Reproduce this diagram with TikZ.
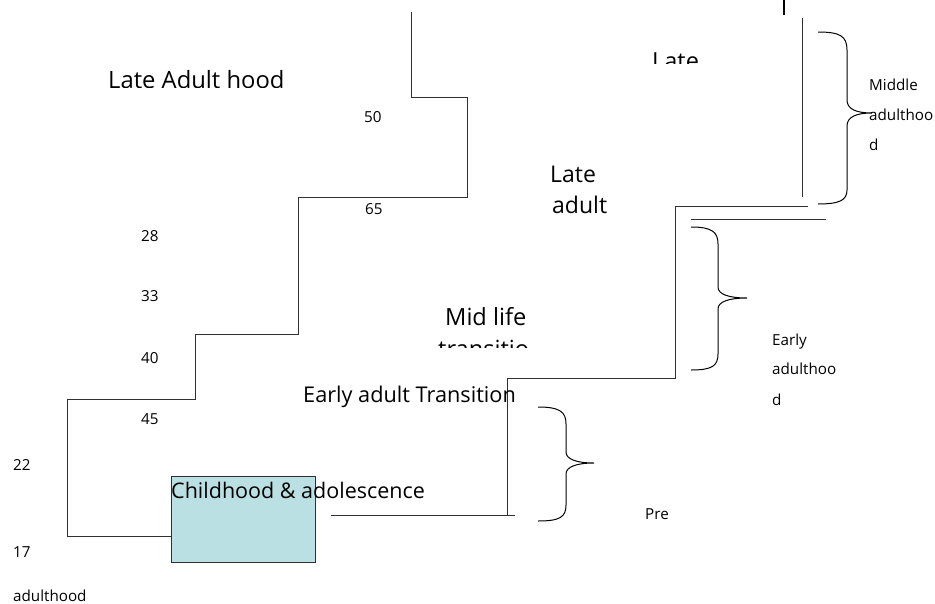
\documentclass[tikz,border=0pt]{standalone}
\usepackage{fontspec}
\setmainfont{Open Sans}
\definecolor{boxblue}{HTML}{BBE0E3}
\definecolor{inkgray}{HTML}{303030}
\begin{document}
\begin{tikzpicture}[x=1pt,y=-1pt,
  stair/.style={draw=inkgray,line width=1pt},
  brace/.style={draw=black,line width=1pt},
  big/.style={font=\fontsize{#1}{25}\selectfont,inner sep=0,anchor=base west},
  big/.default=21.5,
  small/.style={font=\fontsize{15.2}{18}\selectfont,inner sep=0,anchor=base west}]
\useasboundingbox (0,0) rectangle (935,603);

% childhood box
\node[draw=inkgray,line width=1pt,fill=boxblue,minimum width=144pt,minimum height=86pt,
      inner sep=0,anchor=north west] (box) at (171,476) {};
\node[big=21.5] (child) at (171,498) {Childhood \& adolescence};

% left staircase, ending at the box
\coordinate (s0) at (67,536);
\draw[stair] (411,12) -- (411,97) -- (467,97) -- (467,197) -- (298,197) -- (298,334)
  -- (195,334) -- (195,399) -- (67,399) -- (s0) -- (s0 -| box.west);

% right staircase
\coordinate (r0) at (331,515);
\coordinate (r1) at (515,515);
\draw[stair] (r0) -- (r1);
\draw[stair] (507,515) -- (507,378) -- (675,378) -- (675,206) -- (808,206);
\draw[stair] (691,219) -- (826,219);
\draw[stair] (802,18) -- (802,197);
\draw[line width=2pt] (784,0) -- (784,15);

% braces
\draw[brace] (818,32) .. controls (840,32) and (847,36) .. (847,50) -- (847,100)
  .. controls (847,109) and (856,113) .. (872,113)
  .. controls (856,113) and (847,117) .. (847,126) -- (847,190)
  .. controls (847,200) and (840,204) .. (818,204);
\draw[brace] (691,227) .. controls (712,227) and (718,232) .. (718,244) -- (718,287)
  .. controls (718,294) and (728,298) .. (747,298)
  .. controls (728,298) and (718,302) .. (718,309) -- (718,354)
  .. controls (718,366) and (712,370) .. (691,370);
\draw[brace] (538,407) .. controls (560,407) and (566,412) .. (566,424) -- (566,452)
  .. controls (566,459) and (576,463) .. (594,463)
  .. controls (576,463) and (566,467) .. (566,474) -- (566,505)
  .. controls (566,517) and (560,521) .. (538,521);

% stage titles
\begin{scope}
  \clip (90,60) rectangle (300,87);
  \node[big=23.8] (late1) at (108,88.5) {Late Adult hood};
\end{scope}
\begin{scope}
  \clip (640,40) rectangle (720,63);
  \node[big=23.5] (late2) at (652,69) {Late};
\end{scope}
\node[big=23] (late3) at (550,182) {Late};
\node[big=23] (adult3) at (552,213) {adult};
\node[big=23.6] (mid) at (445,325) {Mid life};
\begin{scope}
  \clip (430,330) rectangle (545,347);
  \node[big=23.6] (trans) at (438,357) {transitio};
\end{scope}
\node[big=21.7] (eat) at (303,402) {Early adult Transition};

% ages
\node[small] (a50) at (364,122) {50};
\node[small] (a65) at (365,214) {65};
\node[small] (a28) at (141,241) {28};
\node[small] (a33) at (141,301) {33};
\node[small] (a40) at (141,363) {40};
\node[small] (a45) at (141,424) {45};
\node[small] (a22) at (13,470) {22};
\node[small] (a17) at (13,557) {17};
\node[small] (adh) at (13,601) {adulthood};
\node[small] (pre) at (645,519) {Pre};

% brace labels
\node[small] (ea1) at (772,345) {Early};
\node[small] (ea2) at (772,374) {adulthoo};
\node[small] (ea3) at (772,405) {d};
\node[small] (ma1) at (869,90) {Middle};
\node[small] (ma2) at (869,120) {adulthoo};
\node[small] (ma3) at (869,150) {d};
\end{tikzpicture}
\end{document}
